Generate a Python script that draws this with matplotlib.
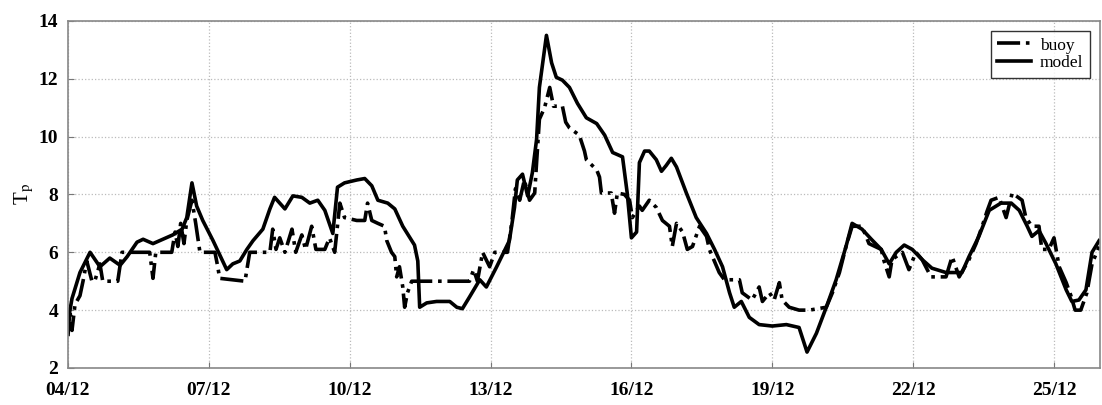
import matplotlib
matplotlib.use("Agg")
import matplotlib.pyplot as plt

# Peak wave period Tp, buoy observations vs. model, December
tick_days = [0, 3, 6, 9, 12, 15, 18, 21]
tick_labels = ["04/12", "07/12", "10/12", "13/12", "16/12", "19/12", "22/12", "25/12"]
y_ticks = [2, 4, 6, 8, 10, 12, 14]

model_day = [0.0, 0.085, 0.255, 0.47, 0.68, 0.89, 1.11, 1.26, 1.47, 1.60, 1.81, 2.02,
             2.23, 2.43, 2.53, 2.64, 2.74, 2.87, 3.09, 3.28, 3.38, 3.51, 3.66, 3.81,
             3.94, 4.15, 4.30, 4.40, 4.62, 4.79, 4.98, 5.15, 5.32, 5.47, 5.64, 5.74,
             5.89, 6.15, 6.32, 6.47, 6.60, 6.81, 6.96, 7.13, 7.38, 7.45, 7.49, 7.64,
             7.85, 8.13, 8.28, 8.40, 8.55, 8.77, 8.91, 9.13, 9.34, 9.40, 9.51, 9.57,
             9.68, 9.79, 9.89, 9.98, 10.04, 10.19, 10.30, 10.40, 10.53, 10.68, 10.85,
             11.04, 11.26, 11.43, 11.60, 11.81, 11.91, 12.00, 12.11, 12.17, 12.28,
             12.38, 12.53, 12.64, 12.74, 12.85, 12.96, 13.17, 13.38, 13.60, 13.77,
             13.94, 14.09, 14.19, 14.34, 14.51, 14.72, 15.00, 15.30, 15.57, 15.74,
             15.94, 16.15, 16.36, 16.57, 16.70, 16.91, 17.11, 17.32, 17.49, 17.64,
             17.81, 17.98, 18.19, 18.40, 18.70, 19.04, 19.19, 19.40, 19.62, 19.87,
             20.09, 20.26, 20.43, 20.53, 20.68, 20.83, 21.04, 21.26, 21.38, 21.53,
             21.68, 21.81, 21.96]
model_tp = [3.6, 4.4, 5.3, 6.0, 5.5, 5.8, 5.55, 5.85, 6.35, 6.45, 6.3, 6.45,
            6.6, 6.8, 7.2, 8.4, 7.6, 7.1, 6.4, 5.75, 5.4, 5.6, 5.7, 6.1,
            6.4, 6.8, 7.5, 7.9, 7.5, 7.95, 7.9, 7.7, 7.8, 7.45, 6.65, 8.25,
            8.4, 8.5, 8.55, 8.3, 7.8, 7.7, 7.5, 6.9, 6.25, 5.7, 4.1, 4.25,
            4.3, 4.3, 4.1, 4.05, 4.45, 5.05, 4.8, 5.5, 6.2, 6.4, 7.55, 8.5,
            8.7, 7.95, 8.75, 9.9, 11.7, 13.5, 12.55, 12.05, 11.95, 11.7, 11.15,
            10.65, 10.45, 10.05, 9.45, 9.3, 8.05, 6.5, 6.7, 9.1, 9.5,
            9.5, 9.2, 8.8, 9.0, 9.25, 8.95, 8.05, 7.2, 6.65, 6.1,
            5.5, 4.6, 4.1, 4.3, 3.75, 3.5, 3.45, 3.5, 3.4, 2.55,
            3.2, 4.1, 5.05, 6.2, 7.0, 6.8, 6.45, 6.1, 5.6, 6.0,
            6.25, 6.1, 5.75, 5.45, 5.3, 5.3, 5.85, 6.55, 7.45, 7.7,
            7.7, 7.45, 6.9, 6.55, 6.75, 6.3, 5.6, 4.7, 4.3, 4.35,
            4.7, 6.0, 6.4]

buoy_day = [0.0, 0.04, 0.085, 0.15, 0.255, 0.32, 0.40, 0.51, 0.57, 0.68, 0.74, 1.06,
            1.15, 1.74, 1.81, 1.87, 2.21, 2.28, 2.34, 2.40, 2.47, 2.53, 2.64, 2.72,
            2.81, 3.13, 3.19, 3.23, 3.77, 3.83, 3.87, 4.30, 4.36, 4.43, 4.51, 4.62,
            4.77, 4.85, 4.98, 5.06, 5.19, 5.28, 5.47, 5.57, 5.68, 5.79, 5.89, 6.15,
            6.32, 6.38, 6.47, 6.60, 6.74, 6.79, 6.89, 6.96, 7.00, 7.06, 7.13, 7.17,
            7.23, 7.32, 8.55, 8.64, 8.72, 8.83, 8.98, 9.09, 9.36, 9.45, 9.53, 9.62,
            9.72, 9.83, 9.94, 9.98, 10.04, 10.15, 10.26, 10.34, 10.53, 10.60, 10.68,
            10.89, 11.00, 11.04, 11.26, 11.32, 11.36, 11.57, 11.64, 11.70, 11.85,
            11.96, 12.02, 12.17, 12.23, 12.38, 12.53, 12.66, 12.81, 12.87, 12.96,
            13.09, 13.19, 13.30, 13.45, 13.60, 13.66, 13.87, 13.98, 14.30, 14.36,
            14.57, 14.72, 14.79, 14.94, 15.04, 15.15, 15.21, 15.36, 15.57, 15.79,
            16.15, 16.28, 16.43, 16.57, 16.70, 16.91, 17.06, 17.32, 17.38, 17.49,
            17.55, 17.77, 17.91, 18.06, 18.19, 18.38, 18.70, 18.83, 18.98, 19.19,
            19.34, 19.47, 19.57, 19.66, 19.83, 19.98, 20.11, 20.32, 20.40, 20.53,
            20.68, 20.74, 20.89, 21.00, 21.11, 21.26, 21.36, 21.45, 21.57, 21.70,
            21.81, 21.96]
buoy_tp = [3.1, 4.0, 3.3, 4.2, 4.5, 5.0, 5.7, 5.0, 5.0, 5.6, 5.0, 5.0,
           6.0, 6.0, 5.1, 6.0, 6.0, 6.7, 6.2, 7.0, 6.3, 7.1, 7.8, 7.0,
           6.0, 6.0, 5.5, 5.1, 5.0, 5.6, 6.0, 6.0, 6.8, 6.1, 6.5, 6.0,
           6.8, 6.0, 6.6, 6.1, 6.9, 6.1, 6.1, 6.5, 6.0, 7.7, 7.2, 7.1,
           7.1, 7.7, 7.1, 7.0, 6.9, 6.4, 6.0, 5.85, 5.15, 5.5, 4.8, 4.1,
           4.6, 5.0, 5.0, 5.4, 5.0, 6.0, 5.5, 6.0, 6.0, 7.0, 8.2, 7.8,
           8.5, 7.8, 8.05, 9.1, 10.6, 11.0, 11.7, 11.05, 11.05, 10.5, 10.3,
           10.05, 9.5, 9.2, 8.85, 8.6, 8.05, 8.05, 7.35, 8.05, 8.0,
           7.8, 7.2, 7.6, 7.45, 7.8, 7.55, 7.1, 6.9, 6.2, 7.0,
           6.7, 6.1, 6.2, 6.9, 6.55, 6.1, 5.3, 5.05, 5.05, 4.6,
           4.35, 4.8, 4.3, 4.6, 4.35, 4.95, 4.35, 4.1, 4.0, 4.0,
           4.1, 4.6, 5.3, 6.2, 6.9, 6.9, 6.3, 6.1, 5.7, 5.15,
           5.75, 6.0, 5.4, 6.0, 5.75, 5.15, 5.15, 5.85, 5.15, 5.75,
           6.3, 6.9, 7.4, 7.8, 7.9, 7.2, 8.05, 7.8, 7.2, 6.9,
           6.9, 6.1, 6.1, 6.5, 5.5, 4.95, 4.5, 4.0, 4.0, 4.6,
           5.6, 6.2]

plt.rcParams["font.family"] = ["Liberation Serif", "DejaVu Serif"]
plt.rcParams["mathtext.fontset"] = "stix"

fig = plt.figure(figsize=(11.02, 4.05), dpi=100)
ax = fig.add_axes([0.0617, 0.0914, 0.9365, 0.857])

ax.plot(buoy_day, buoy_tp, color="black", linestyle="-.", linewidth=2.6, label="buoy")
ax.plot(model_day, model_tp, color="black", linestyle="-", linewidth=2.6, label="model")

ax.set_xlim(0, 21.98)
ax.set_ylim(2, 14)
ax.set_xticks(tick_days)
ax.set_xticklabels(tick_labels)
ax.set_yticks(y_ticks)
ax.tick_params(axis="both", direction="in", length=4, labelsize=14, color="#777777")
ax.tick_params(axis="x", pad=10)
ax.tick_params(axis="y", pad=7)
for lbl in ax.get_xticklabels() + ax.get_yticklabels():
    lbl.set_fontweight("bold")
ax.grid(True, color="#bbbbbb", linestyle=":", linewidth=0.9)
for s in ax.spines.values():
    s.set_color("#888888")
    s.set_linewidth(1.2)

ax.set_ylabel(r"T$_{\rm p}$", fontsize=15, labelpad=2)

leg = ax.legend(loc="upper right", fontsize=12.5, frameon=True, fancybox=False,
                edgecolor="black", handlelength=2.0, borderpad=0.35,
                labelspacing=0.1, handletextpad=0.5, borderaxespad=0.6)
leg.get_frame().set_linewidth(1.0)

fig.savefig("out.png", dpi=100)
